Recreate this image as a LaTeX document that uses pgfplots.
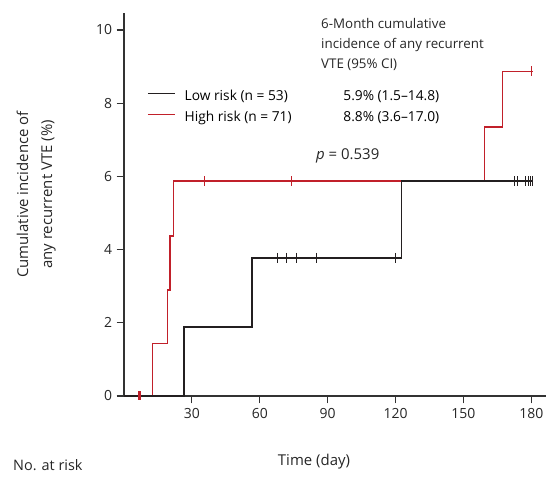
\documentclass[border=0pt]{standalone}
\usepackage{fontspec}
\setmainfont{Open Sans}
\usepackage{pgfplots}
\pgfplotsset{compat=1.18}
\definecolor{kmred}{RGB}{193,32,42}
\definecolor{kmblack}{RGB}{35,31,32}
\definecolor{axgray}{RGB}{50,50,50}
\begin{document}
\begin{tikzpicture}
\path[use as bounding box] (0,0) rectangle (547bp,478bp);
\begin{axis}[
  at={(124bp,82bp)}, anchor=south west,
  scale only axis, width=422bp, height=382.5bp,
  xmin=0, xmax=186.5, ymin=0, ymax=10.45,
  axis x line=bottom, axis y line=left,
  axis line style={-, axgray, line width=1.1pt},
  xtick={30,60,90,120,150,180},
  ytick={0,2,4,6,8,10},
  tick style={axgray, line width=1.1pt},
  tick align=outside, major tick length=7.5bp,
  ticklabel style={font=\fontsize{14}{16}\selectfont, text=black!85},
  /pgf/number format/assume math mode=true,
  xticklabel style={yshift=-1bp},
  yticklabel style={xshift=-1bp},
  clip=false,
  reverse legend,
  legend cell align=left,
  legend style={at={(axis description cs:0.0545,0.799)}, anchor=north west,
    draw=none, fill=none, inner sep=0pt, row sep=8bp,
    font=\fontsize{13.8}{15}\selectfont,
    nodes={inner sep=0pt, text height=10bp, text depth=3bp},
    /tikz/every odd column/.append style={column sep=9bp}},
  legend image code/.code={\draw[#1] (0bp,3.5bp) -- (27bp,3.5bp);},
]
% High risk (red)
\addplot[const plot, kmred, line width=1.5pt] coordinates {
  (0,0) (12.5,1.44) (19.3,2.9) (20.3,4.37) (21.8,5.87) (159.3,7.35) (167.2,8.87) (180.7,8.87)};
\addlegendentry{\makebox[158.7bp][l]{High risk (n = 71)}8.8\% (3.6--17.0)}
\addplot[only marks, mark=|, mark size=5bp, kmred, mark options={line width=1.0pt}, forget plot] coordinates {
  (35.5,5.87) (74.1,5.87) (180.1,8.87)};
\addplot[only marks, mark=|, mark size=4.5bp, kmred, mark options={line width=2.6pt}, forget plot] coordinates {
  (6.8,0)};
% Low risk (black)
\addplot[const plot, kmblack, line width=1.5pt] coordinates {
  (0,0) (26.5,1.887) (56.6,3.774) (122.7,5.87) (180.7,5.87)};
\addlegendentry{\makebox[158.7bp][l]{Low risk (n = 53)}5.9\% (1.5--14.8)}
\addplot[only marks, mark=|, mark size=5bp, kmblack, mark options={line width=0.8pt}, forget plot] coordinates {
  (67.9,3.774) (71.9,3.774) (76.3,3.774) (85.0,3.774) (120.0,3.774)
  (172.6,5.87) (174.0,5.87) (177.5,5.87) (178.7,5.87) (179.8,5.87) (180.7,5.87)};
\end{axis}
% header text
\begin{scope}[every node/.style={anchor=base west, inner sep=0pt, font=\fontsize{13.4}{15}\selectfont, text=black!85}]
\node at (321bp,449.7bp) {6-Month cumulative};
\node at (321bp,429.7bp) {incidence of any recurrent};
\node at (321bp,409.7bp) {VTE (95\% CI)};
\node at (316bp,318.5bp) {\fontsize{15}{17}\selectfont\textit{p} = 0.539};
\node at (13bp,7.5bp) {\fontsize{14.5}{16}\selectfont No. at risk};
\end{scope}
\node[anchor=base, inner sep=0pt, font=\fontsize{15}{17}\selectfont, text=black!85] at (314bp,13bp) {Time (day)};
\node[rotate=90, anchor=base, inner sep=0pt, font=\fontsize{15}{17}\selectfont, text=black!85] at (28bp,283.5bp) {Cumulative incidence of};
\node[rotate=90, anchor=base, inner sep=0pt, font=\fontsize{15}{17}\selectfont, text=black!85] at (52bp,283.5bp) {any recurrent VTE (\%)};
\end{tikzpicture}
\end{document}
